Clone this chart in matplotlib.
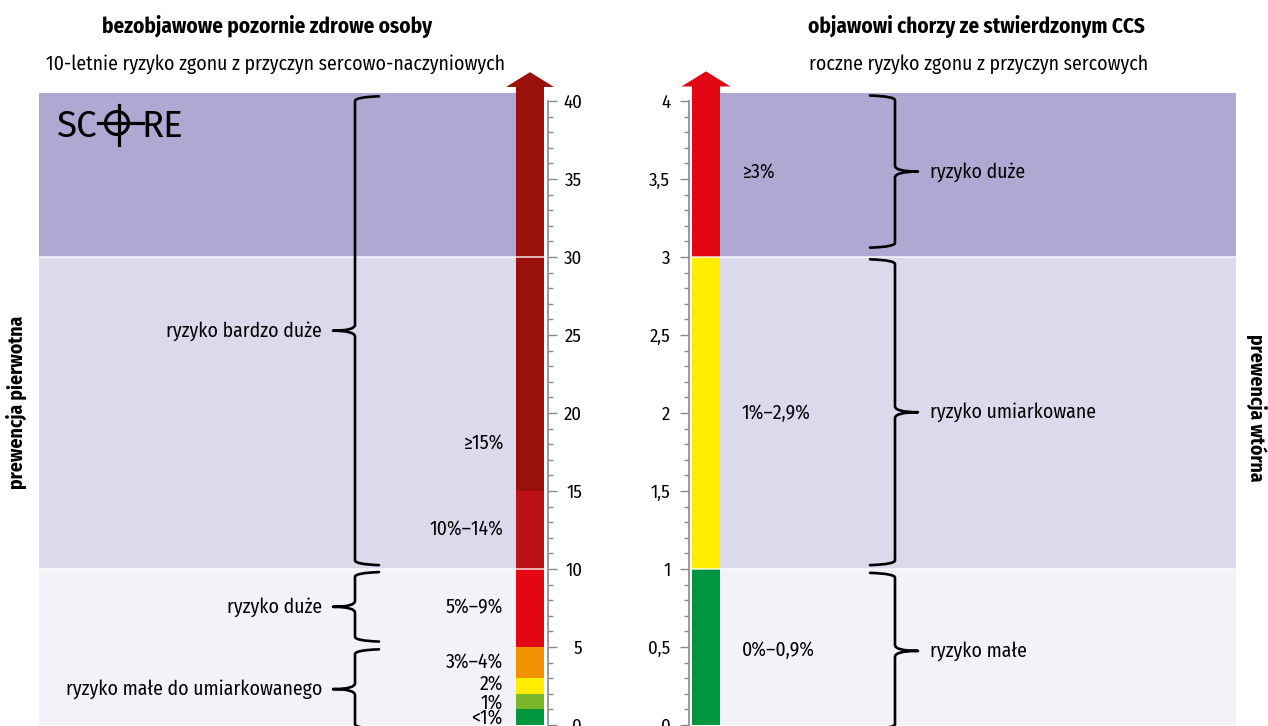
import matplotlib
matplotlib.use("Agg")
import matplotlib.pyplot as plt
from matplotlib.path import Path
from matplotlib.patches import PathPatch, Circle
from matplotlib.ticker import FuncFormatter

FONT = "Fira Sans Condensed"
plt.rcParams["font.family"] = [FONT, "DejaVu Sans"]
FS = 14.2

# --- data -------------------------------------------------------------------
# left: 10-year CVD death risk (%), SCORE categories
left_lo = [0, 1, 2, 3, 5, 10, 15]
left_hi = [1, 2, 3, 5, 10, 15, 40]
left_colors = ["#009640", "#7ab829", "#ffed00", "#f39200", "#e30613", "#bd1116", "#9a110b"]
left_labels = ["<1%", "1%", "2%", "3%–4%", "5%–9%", "10%–14%", "≥15%"]
left_label_y = [0.45, 1.42, 2.62, 4.05, 7.55, 12.55, 18.1]

left_bands = [(0, 10), (10, 30), (30, 40.5)]
left_groups = ["ryzyko małe do umiarkowanego", "ryzyko duże", "ryzyko bardzo duże"]
left_brace = [(-0.2, 4.8), (5.4, 9.75), (10.3, 40.25)]

# right: annual cardiac death risk (%), chronic coronary syndrome
right_lo = [0, 1, 3]
right_hi = [1, 3, 4]
right_colors = ["#009640", "#ffed00", "#e30613"]
right_labels = ["0%–0,9%", "1%–2,9%", "≥3%"]
right_label_y = [0.48, 2.0, 3.545]

right_bands = [(0, 1), (1, 3), (3, 4.05)]
right_groups = ["ryzyko małe", "ryzyko umiarkowane", "ryzyko duże"]
right_brace = [(-0.02, 0.97), (1.03, 2.98), (3.065, 4.03)]

left_ticks = list(range(0, 41, 5))
right_ticks = [0, 0.5, 1, 1.5, 2, 2.5, 3, 3.5, 4]

band_colors = ["#f3f2f9", "#dcd9ec", "#b0a8d3"]

W, H = 1268, 726
PX = 15.6          # pixels per left unit
Y0 = 725           # pixel row of value 0


def brace(ax, x, lo, hi, arm, tip, yscale):
    """vertical curly brace; arm>0 hooks point right, tip points the other way"""
    r = 4 / yscale
    rt = 6 / yscale
    mid = (lo + hi) / 2
    verts = [(x + arm, hi + 0.8 / yscale), (x, hi), (x, hi - r),
             (x, mid + rt), (x, mid), (x - tip, mid),
             (x, mid), (x, mid - rt),
             (x, lo + r), (x, lo), (x + arm, lo - 0.8 / yscale)]
    codes = [Path.MOVETO, Path.CURVE3, Path.CURVE3,
             Path.LINETO, Path.CURVE3, Path.CURVE3,
             Path.CURVE3, Path.CURVE3,
             Path.LINETO, Path.CURVE3, Path.CURVE3]
    ax.add_patch(PathPatch(Path(verts, codes), fill=False, lw=1.9,
                           ec="black", capstyle="round", joinstyle="round", zorder=5))
    return mid


fig = plt.figure(figsize=(W / 100, H / 100), dpi=100)

# left panel, x in pixels, y in % (0..40)
axL = fig.add_axes([0, 0, 1, 1])
axL.set_xlim(0, W)
axL.set_ylim((Y0 - H) / PX, Y0 / PX)
axL.patch.set_alpha(0)

# right panel, same geometry, y in % (0..4)
axR = fig.add_axes([0, 0, 1, 1])
axR.set_xlim(0, W)
axR.set_ylim((Y0 - H) / PX / 10, Y0 / PX / 10)
axR.patch.set_alpha(0)

for (lo, hi), c in zip(left_bands, band_colors):
    axL.fill_between([39, 517], lo, hi, color=c, lw=0, zorder=1)
for (lo, hi), c in zip(right_bands, band_colors):
    axR.fill_between([720, 1236], lo, hi, color=c, lw=0, zorder=1)

# risk bars
axL.bar(530, [h - l for l, h in zip(left_lo, left_hi)], bottom=left_lo, width=28,
        color=left_colors, lw=0, zorder=2)
axL.arrow(530, left_hi[-1] - 0.05, 0, 1.9, width=28, head_width=48, head_length=0.95,
          length_includes_head=True, color=left_colors[-1], lw=0, zorder=2)
axR.bar(706, [h - l for l, h in zip(right_lo, right_hi)], bottom=right_lo, width=28,
        color=right_colors, lw=0, zorder=2)
axR.arrow(706, right_hi[-1] - 0.005, 0, 0.195, width=28, head_width=49, head_length=0.097,
          length_includes_head=True, color=right_colors[-1], lw=0, zorder=2)

# thin white separators between bands
for lo, hi in left_bands[1:]:
    axL.plot([39, 545], [lo, lo], color="white", lw=1.2, alpha=0.8, zorder=3)
for lo, hi in right_bands[1:]:
    axR.plot([691, 1236], [lo, lo], color="white", lw=1.2, alpha=0.8, zorder=3)

# category labels next to bars
for t, y in zip(left_labels, left_label_y):
    axL.text(503, y, t, ha="right", va="center", fontsize=FS, zorder=6)
for t, y in zip(right_labels, right_label_y):
    axR.text(742, y, t, ha="left", va="center", fontsize=FS, zorder=6)

# braces + group names
for (lo, hi), g in zip(left_brace, left_groups):
    m = brace(axL, 355, lo, hi, 24, 22, PX)
    axL.text(322, m, g, ha="right", va="center", fontsize=FS, zorder=6)
for (lo, hi), g in zip(right_brace, right_groups):
    m = brace(axR, 895, lo, hi, -25, -23, PX * 10)
    axR.text(930, m, g, ha="left", va="center", fontsize=FS, zorder=6)

# scale axes
grey = "#8a8a8a"
for ax in (axL, axR):
    for s in ax.spines.values():
        s.set_visible(False)
    ax.set_xticks([])

axL.spines["right"].set_visible(True)
axL.spines["right"].set_position(("data", 548))
axL.spines["right"].set_bounds(0, 40)
axL.spines["right"].set_color(grey)
axL.spines["right"].set_linewidth(1.2)
axL.yaxis.tick_right()
axL.set_yticks(left_ticks)
axL.set_yticks(range(0, 41), minor=True)
axL.tick_params(axis="y", which="major", direction="out", length=6.5, width=1, color=grey,
                pad=18, labelsize=13.5)
axL.tick_params(axis="y", which="minor", direction="out", length=3.8, width=1, color=grey)
for lab in axL.get_yticklabels():
    lab.set_ha("right")

axR.spines["left"].set_visible(True)
axR.spines["left"].set_position(("data", 689))
axR.spines["left"].set_bounds(0, 4)
axR.spines["left"].set_color(grey)
axR.spines["left"].set_linewidth(1.2)
axR.yaxis.tick_left()
axR.set_yticks(right_ticks)
axR.set_yticks([i / 10 for i in range(41)], minor=True)
axR.yaxis.set_major_formatter(FuncFormatter(lambda v, p: f"{v:g}".replace(".", ",")))
axR.tick_params(axis="y", which="major", direction="out", length=6.5, width=1, color=grey,
                pad=7, labelsize=13.5)
axR.tick_params(axis="y", which="minor", direction="out", length=3.8, width=1, color=grey)

# titles
fig.text(267 / W, 1 - 27 / H, "bezobjawowe pozornie zdrowe osoby", ha="center", va="center",
         fontsize=15.2, fontweight="bold")
fig.text(275 / W, 1 - 64 / H, "10-letnie ryzyko zgonu z przyczyn sercowo-naczyniowych",
         ha="center", va="center", fontsize=FS)
fig.text(976 / W, 1 - 27 / H, "objawowi chorzy ze stwierdzonym CCS", ha="center", va="center",
         fontsize=15.2, fontweight="bold")
fig.text(979 / W, 1 - 64 / H, "roczne ryzyko zgonu z przyczyn sercowych",
         ha="center", va="center", fontsize=FS)
fig.text(16 / W, 1 - 402 / H, "prewencja pierwotna", rotation=90, ha="center", va="center",
         fontsize=FS, fontweight="bold")
fig.text(1257 / W, 1 - 408 / H, "prewencja wtórna", rotation=270, ha="center", va="center",
         fontsize=FS, fontweight="bold")

# SCORE logo (pixel overlay)
axP = fig.add_axes([0, 0, 1, 1])
axP.set_xlim(0, W)
axP.set_ylim(H, 0)
axP.axis("off")
axP.text(56, 137, "SC", ha="left", va="baseline", fontsize=26.5, family="Fira Sans")
axP.text(141, 137, "RE", ha="left", va="baseline", fontsize=26.5, family="Fira Sans")
axP.add_patch(Circle((117, 123), 11.5, fill=False, lw=2.3, ec="black"))
axP.plot([98, 143], [123, 123], color="black", lw=2.3)
axP.plot([119, 119], [105, 145], color="black", lw=2.3)

fig.savefig("out.png", dpi=100)
